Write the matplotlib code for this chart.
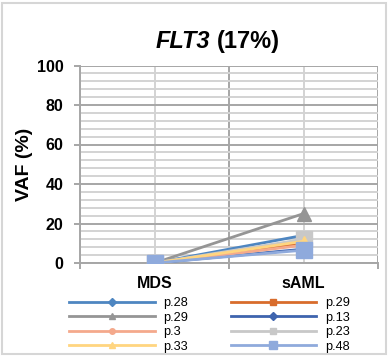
import matplotlib.pyplot as plt
from matplotlib.patches import Rectangle

plt.rcParams['font.family'] = ['Liberation Sans', 'DejaVu Sans']

categories = ['MDS', 'sAML']
patients = ['p.28', 'p.29', 'p.29', 'p.13', 'p.3', 'p.23', 'p.33', 'p.48']
vaf_mds = [0, 0, 0, 0, 0, 0, 0, 0]
vaf_saml = [14, 10, 25, 7, 9, 12, 11, 6.5]

colors = ['#4E86C1', '#D86C2C', '#959595', '#3E64AE',
          '#F4A98C', '#C8C8C8', '#FFD580', '#8FAADC']
markers = ['D', 's', '^', 'D', 'o', 's', '^', 's']
msizes = [4, 5, 10, 4, 4, 11.5, 7, 12]

fig = plt.figure(figsize=(3.9, 3.57), dpi=100)
ax = fig.add_axes([80 / 390, 1 - 263 / 357, 298 / 390, 197.5 / 357])

lines = []
for i, name in enumerate(patients):
    ln, = ax.plot([0, 1], [vaf_mds[i], vaf_saml[i]], color=colors[i], lw=2,
                  marker=markers[i], ms=msizes[i], mec=colors[i],
                  label=name, zorder=3 + i)
    lines.append(ln)

ax.set_xlim(-0.5, 1.5)
ax.set_ylim(0, 100)
ax.set_yticks(range(0, 101, 20))
ax.set_yticks(range(0, 101, 4), minor=True)
ax.set_xticks([-0.5, 0.5, 1.5])
ax.set_xticklabels([])
ax.set_xticks([0, 1], minor=True)
ax.set_xticklabels(categories, minor=True, fontsize=11.5, fontweight='bold')

ax.grid(which='major', color='#A6A6A6', lw=1.4, zorder=0)
ax.grid(which='minor', color='#D3D3D3', lw=1.4, zorder=0)
ax.set_axisbelow(True)

for s in ['top', 'right']:
    ax.spines[s].set_visible(False)
for s in ['left', 'bottom']:
    ax.spines[s].set_color('#A6A6A6')
    ax.spines[s].set_linewidth(1.4)

ax.tick_params(axis='y', which='major', length=4, width=1.4, color='#A6A6A6',
               pad=8, labelsize=11.5)
ax.tick_params(axis='y', which='minor', length=0)
ax.tick_params(axis='x', which='major', length=4, width=1.4, color='#A6A6A6')
ax.tick_params(axis='x', which='minor', length=0, pad=9)
for lab in ax.get_yticklabels():
    lab.set_fontweight('bold')

fig.text(210 / 390, 1 - 48 / 357, 'FLT3', ha='right', va='baseline',
         fontsize=17, fontweight='bold', fontstyle='italic')
fig.text(217 / 390, 1 - 48 / 357, '(17%)', ha='left', va='baseline',
         fontsize=17, fontweight='bold')
fig.text(25 / 390, 1 - 164 / 357, 'VAF (%)', rotation=90, ha='center',
         va='center', fontsize=14, fontweight='bold')

order = [0, 2, 4, 6, 1, 3, 5, 7]
leg = fig.legend([lines[k] for k in order], [patients[k] for k in order],
                 ncol=2, frameon=False, loc='upper left',
                 bbox_to_anchor=(69 / 390, 1 - 297 / 357),
                 borderaxespad=0, borderpad=0, fontsize=9.2,
                 handlelength=6.7, handletextpad=0.7, columnspacing=3.3,
                 labelspacing=0.2)
small = {0: 4, 1: 5, 2: 5, 3: 4, 4: 4, 5: 4, 6: 4, 7: 6}
for h, k in zip(leg.legend_handles, order):
    h.set_markersize(small[k])

fig.patches.append(Rectangle((1.5 / 390, 3 / 357), 384.5 / 390, 351 / 357,
                             transform=fig.transFigure, fill=False,
                             ec='#D6D6D6', lw=1.5))

fig.savefig('out.png', dpi=100)
